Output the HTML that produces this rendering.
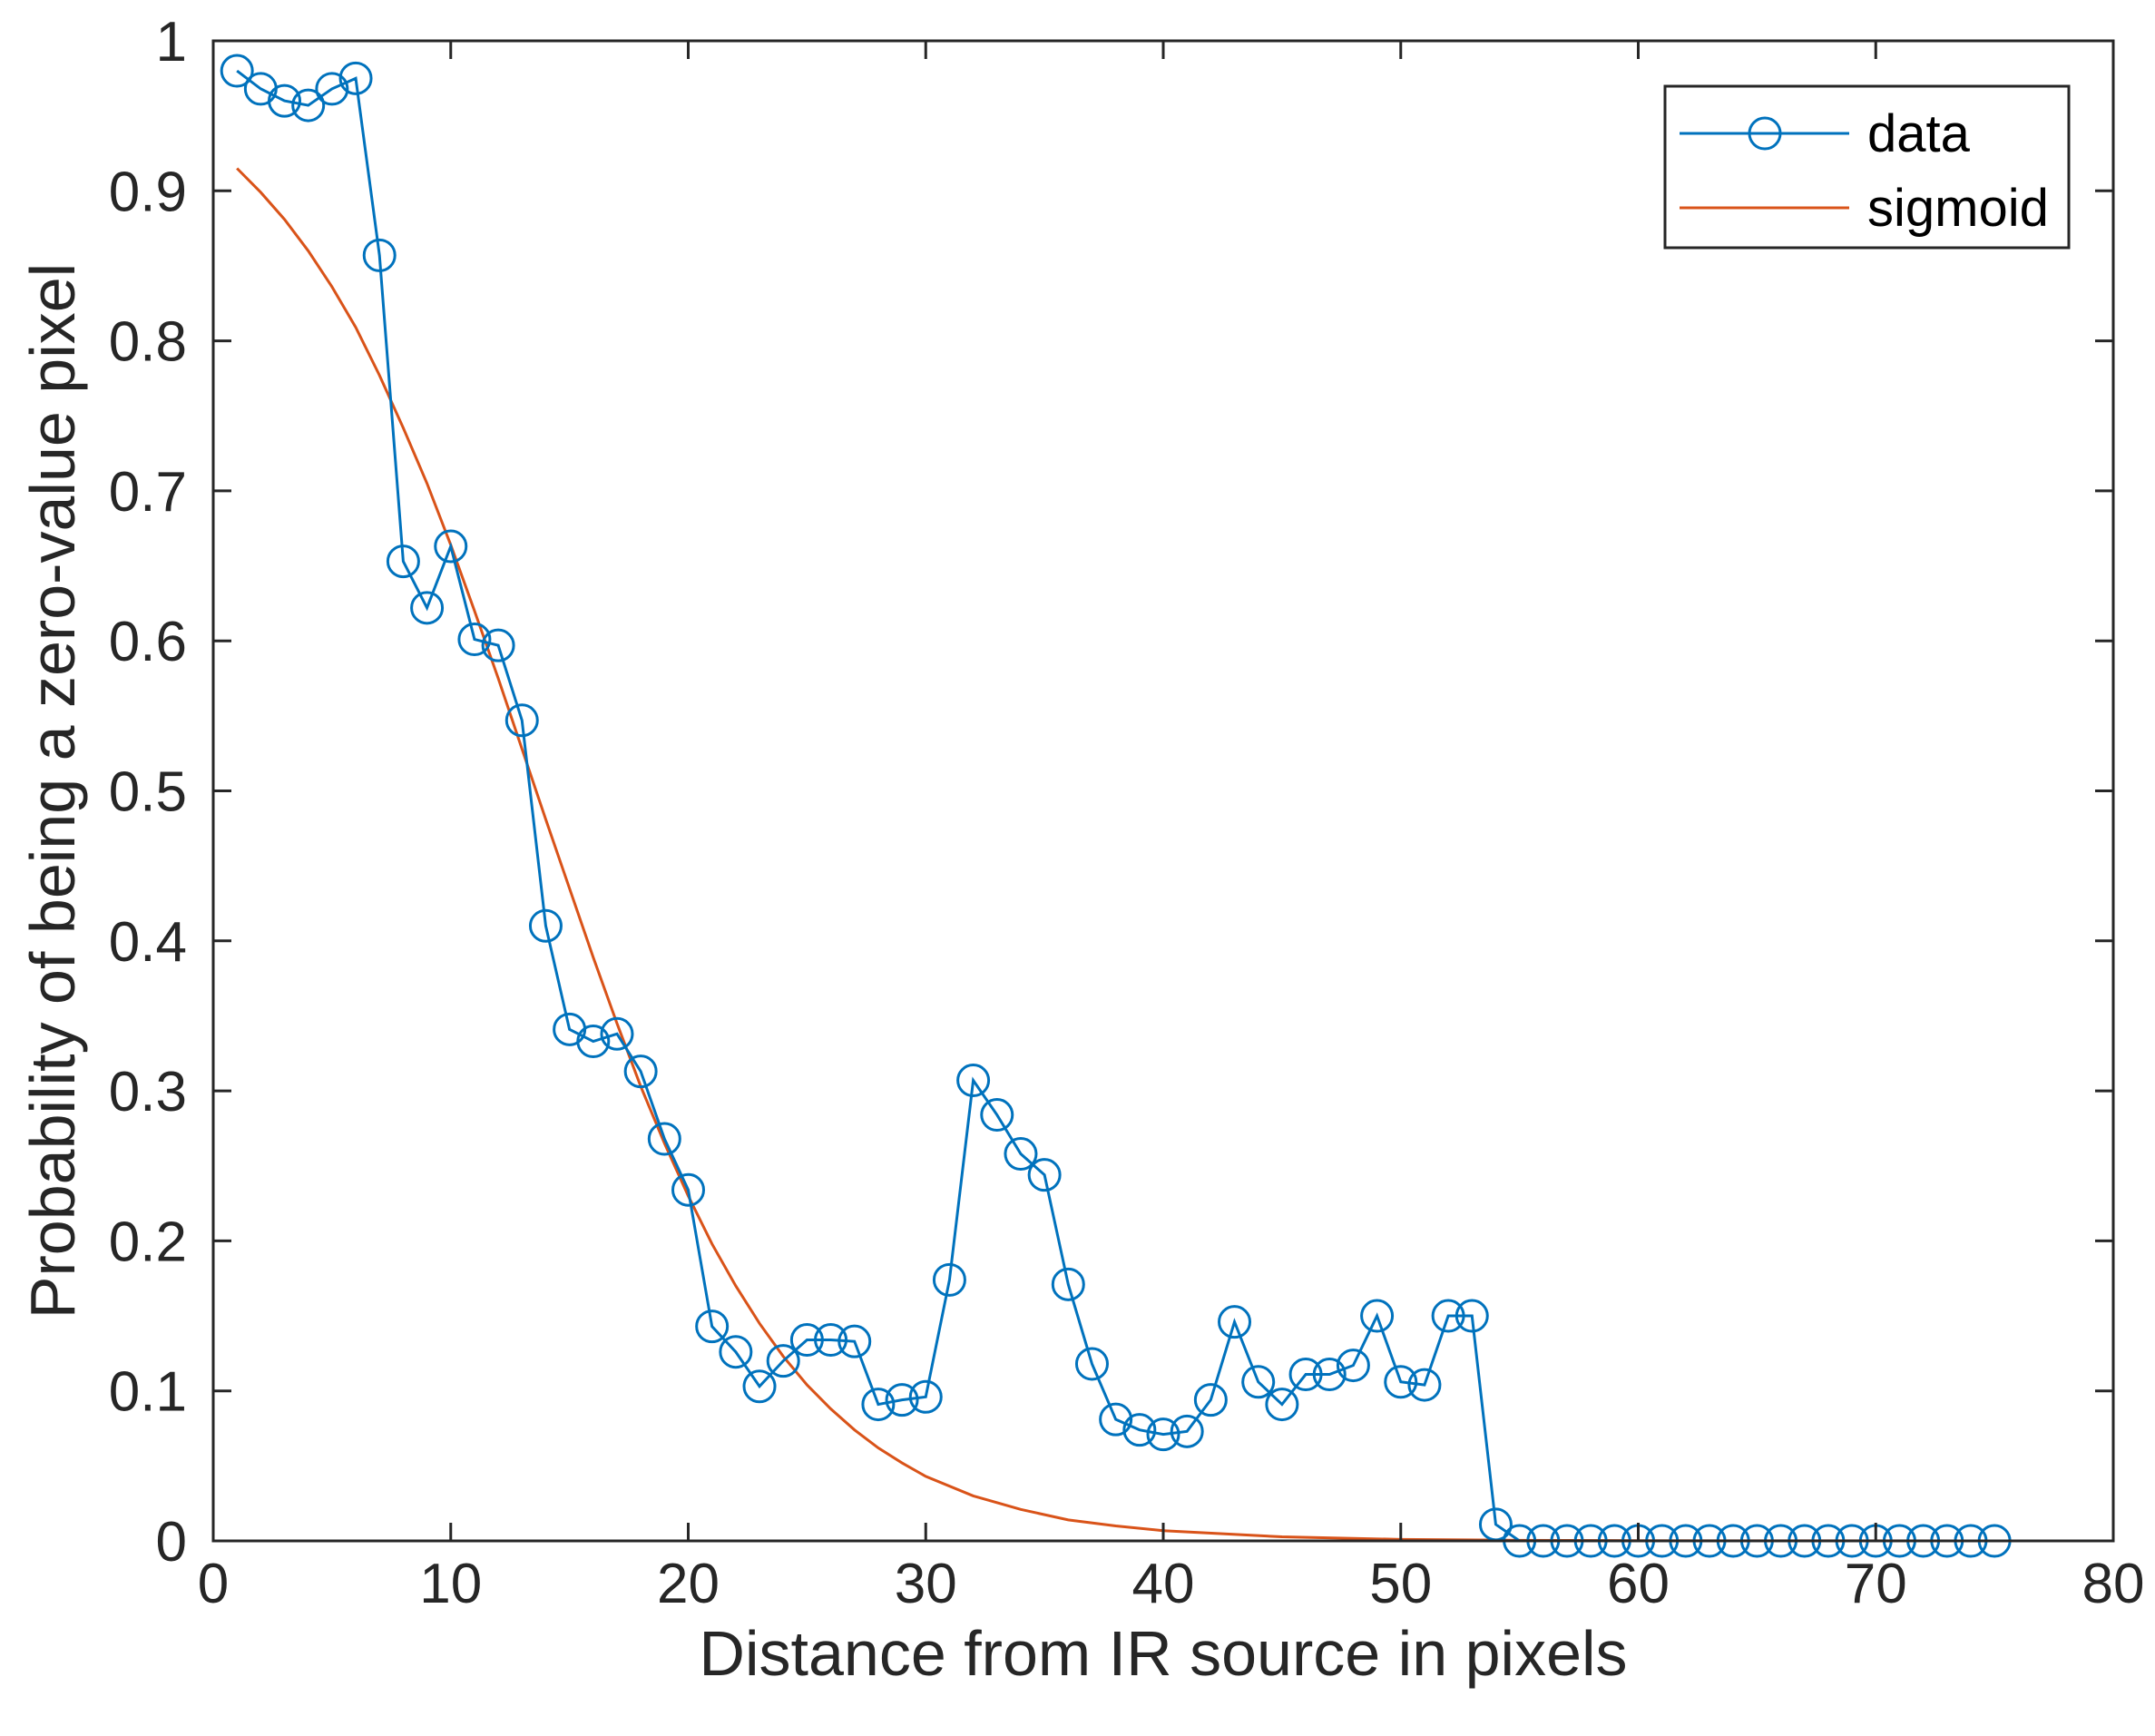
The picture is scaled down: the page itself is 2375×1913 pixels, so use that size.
<!DOCTYPE html>
<html><head><meta charset="utf-8"><style>
html,body{margin:0;padding:0;background:#fff;}
svg{display:block;font-family:"Liberation Sans",Arial,sans-serif;}
</style></head><body>
<svg id="chart" width="2375" height="1913" viewBox="0 0 2375 1913" xmlns="http://www.w3.org/2000/svg">
<rect x="0" y="0" width="2375" height="1913" fill="#fff"/>
<g id="plot"></g>
</svg>
<script>
const xTicks=[0,10,20,30,40,50,60,70,80];
const yTicks=[0,0.1,0.2,0.3,0.4,0.5,0.6,0.7,0.8,0.9,1];
const yTickLabels=["0","0.1","0.2","0.3","0.4","0.5","0.6","0.7","0.8","0.9","1"];
const dataX=[1,2,3,4,5,6,7,8,9,10,11,12,13,14,15,16,17,18,19,20,21,22,23,24,25,26,27,28,29,30,31,32,33,34,35,36,37,38,39,40,41,42,43,44,45,46,47,48,49,50,51,52,53,54,55,56,57,58,59,60,61,62,63,64,65,66,67,68,69,70,71,72,73,74,75];
const dataY=[0.98,0.968,0.96,0.957,0.968,0.975,0.857,0.653,0.622,0.663,0.601,0.597,0.547,0.41,0.341,0.333,0.338,0.313,0.268,0.234,0.143,0.126,0.103,0.12,0.134,0.134,0.133,0.091,0.094,0.096,0.174,0.307,0.284,0.258,0.244,0.171,0.118,0.081,0.074,0.071,0.073,0.094,0.146,0.106,0.091,0.111,0.111,0.117,0.15,0.106,0.104,0.15,0.15,0.011,0,0,0,0,0,0,0,0,0,0,0,0,0,0,0,0,0,0,0,0,0];
const sigX=[1,2,3,4,5,6,7,8,9,10,11,12,13,14,15,16,17,18,19,20,21,22,23,24,25,26,27,28,29,30,32,34,36,38,40,45,50,55,60,75];
const sigY=[0.915,0.899,0.881,0.86,0.836,0.809,0.777,0.742,0.705,0.664,0.62,0.575,0.528,0.481,0.435,0.389,0.345,0.303,0.265,0.23,0.198,0.17,0.145,0.123,0.104,0.088,0.074,0.062,0.052,0.043,0.03,0.021,0.014,0.01,0.0068,0.0027,0.001,0.0004,0.00015,0];

const L=235,R=2329,T=45,B=1698;
const sx=v=>L+(v-0)/(80-0)*(R-L);
const sy=v=>B-(v-0)/(1-0)*(B-T);
const NS="http://www.w3.org/2000/svg";
const g=document.getElementById('plot');
function mk(tag,attrs,parent){const e=document.createElementNS(NS,tag);for(const k in attrs)e.setAttribute(k,attrs[k]);(parent||g).appendChild(e);return e;}

let sp=mk('polyline',{points:sigX.map((x,i)=>sx(x)+','+sy(sigY[i])).join(' '),fill:'none',stroke:'#D95319','stroke-width':3});


let dl=mk('polyline',{points:dataX.map((x,i)=>sx(x)+','+sy(dataY[i])).join(' '),fill:'none',stroke:'#0072BD','stroke-width':3});


dataX.forEach((x,i)=>{
  const c=mk('circle',{cx:sx(x),cy:sy(dataY[i]),r:17,fill:'none',stroke:'#0072BD','stroke-width':3});
  
  
});
let bx=mk('rect',{x:L,y:T,width:R-L,height:B-T,fill:'none',stroke:'#262626','stroke-width':3});


xTicks.forEach(v=>{
  const x=sx(v);
  const t1=mk('line',{x1:x,y1:B,x2:x,y2:B-20,stroke:'#262626','stroke-width':3});
  
  
  const t2=mk('line',{x1:x,y1:T,x2:x,y2:T+20,stroke:'#262626','stroke-width':3});
  
  
  const tx=mk('text',{x:x,y:1766,'font-size':62,'text-anchor':'middle',fill:'#262626'});
  tx.textContent=String(v);
  
  
});
yTicks.forEach((v,i)=>{
  const y=sy(v);
  const t1=mk('line',{x1:L,y1:y,x2:L+20,y2:y,stroke:'#262626','stroke-width':3});
  
  
  const t2=mk('line',{x1:R,y1:y,x2:R-20,y2:y,stroke:'#262626','stroke-width':3});
  
  
  const tx=mk('text',{x:206,y:y+22,'font-size':62,'text-anchor':'end',fill:'#262626'});
  tx.textContent=yTickLabels[i];
  
  
});
let xl=mk('text',{x:(L+R)/2,y:1846,'font-size':70,'text-anchor':'middle',fill:'#262626'});
xl.textContent='Distance from IR source in pixels';


let yl=mk('text',{x:0,y:0,'font-size':70,'text-anchor':'middle',fill:'#262626',transform:'translate(82,'+((T+B)/2)+') rotate(-90)'});
yl.textContent='Probability of being a zero-value pixel';


let lg=mk('g',{});


let lb=mk('rect',{x:1835,y:95,width:445,height:178,fill:'#fff',stroke:'#262626','stroke-width':3},lg);


let l1=mk('line',{x1:1851,y1:147,x2:2038,y2:147,stroke:'#0072BD','stroke-width':3},lg);


let lc=mk('circle',{cx:1945,cy:147,r:17,fill:'none',stroke:'#0072BD','stroke-width':3},lg);


let t1=mk('text',{x:2058,y:167,'font-size':58,fill:'#000'},lg);
t1.textContent='data';


let l2=mk('line',{x1:1851,y1:229,x2:2038,y2:229,stroke:'#D95319','stroke-width':3},lg);


let t2=mk('text',{x:2058,y:249,'font-size':58,fill:'#000'},lg);
t2.textContent='sigmoid';


</script>
</body></html>
